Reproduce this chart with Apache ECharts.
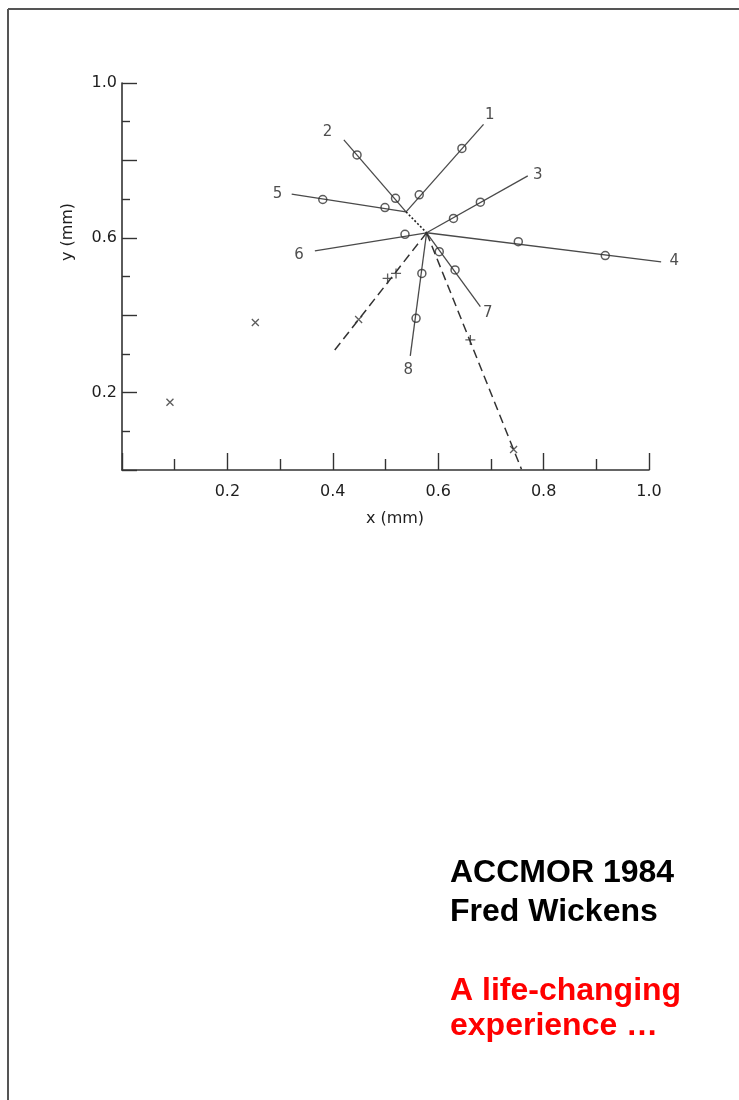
<!DOCTYPE html>
<html>
<head>
<meta charset="utf-8">
<script src="https://cdn.jsdelivr.net/npm/echarts@6/dist/echarts.min.js"></script>
<style>
html,body{margin:0;padding:0;background:#fff;}
#c{width:739px;height:1100px;}
</style>
</head>
<body>
<div id="c"></div>
<script>
// ---- data (mm) ----
const primaryVertex = [0.578, 0.613];
const secondaryVertex = [0.539, 0.667];

const trackNames = ['1', '2', '3', '4', '5', '6', '7', '8'];
const trackOrigin = ['S', 'S', 'P', 'P', 'S', 'P', 'P', 'P'];
const trackEndX = [0.686, 0.421, 0.770, 1.023, 0.322, 0.366, 0.680, 0.547];
const trackEndY = [0.893, 0.853, 0.760, 0.538, 0.713, 0.566, 0.422, 0.295];
const labelX = [0.698, 0.390, 0.789, 1.048, 0.295, 0.336, 0.694, 0.543];
const labelY = [0.917, 0.874, 0.762, 0.541, 0.713, 0.556, 0.405, 0.258];

const hitX = [0.564, 0.645, 0.446, 0.519, 0.629, 0.680, 0.752, 0.917, 0.381, 0.499, 0.537, 0.602, 0.632, 0.569, 0.558];
const hitY = [0.711, 0.831, 0.814, 0.702, 0.650, 0.692, 0.590, 0.554, 0.699, 0.678, 0.609, 0.564, 0.517, 0.508, 0.392];

const dashedEndX = [0.398, 0.758];
const dashedEndY = [0.300, 0.002];

const plusX = [0.504, 0.520, 0.661];
const plusY = [0.495, 0.508, 0.336];
const crossX = [0.449, 0.743, 0.253, 0.091];
const crossY = [0.389, 0.053, 0.381, 0.175];

const xTicks = [0.2, 0.4, 0.6, 0.8, 1.0];
const yTickLabels = [0.2, 0.6, 1.0];

const titleLines = ['ACCMOR 1984', 'Fred Wickens'];
const subtitleLines = ['A life-changing', 'experience \u2026'];

// ---- chart ----
const LINE = '#4a4a4a';
const AX = '#1e1e1e';
const vertexOf = k => (k === 'P' ? primaryVertex : secondaryVertex);

const series = [
  {
    type: 'lines', coordinateSystem: 'cartesian2d', clip: false, silent: true,
    data: trackNames.map((n, i) => ({coords: [vertexOf(trackOrigin[i]), [trackEndX[i], trackEndY[i]]]})),
    lineStyle: {color: LINE, width: 1.3, opacity: 1}
  },
  {
    type: 'lines', coordinateSystem: 'cartesian2d', clip: false, silent: true,
    data: [{coords: [secondaryVertex, primaryVertex]}],
    lineStyle: {color: '#222', width: 1.6, type: [2, 2], opacity: 1}
  },
  {
    type: 'lines', coordinateSystem: 'cartesian2d', clip: false, silent: true,
    data: dashedEndX.map((x, i) => ({coords: [primaryVertex, [x, dashedEndY[i]]]})),
    lineStyle: {color: '#333', width: 1.5, type: [9, 5], opacity: 1}
  },
  {
    type: 'scatter', data: hitX.map((x, i) => [x, hitY[i]]),
    symbol: 'circle', symbolSize: 8, clip: false,
    itemStyle: {color: 'rgba(0,0,0,0)', borderColor: '#333', borderWidth: 1.5}
  },
  {
    type: 'scatter', data: plusX.map((x, i) => [x, plusY[i]]),
    symbol: 'path://M5,0L5,10M0,5L10,5', symbolSize: 10, clip: false,
    itemStyle: {color: 'rgba(0,0,0,0)', borderColor: '#333', borderWidth: 1.3}
  },
  {
    type: 'scatter', data: crossX.map((x, i) => [x, crossY[i]]),
    symbol: 'path://M0,0L10,10M10,0L0,10', symbolSize: 7, clip: false,
    itemStyle: {color: 'rgba(0,0,0,0)', borderColor: '#333', borderWidth: 1.3}
  },
  {
    type: 'scatter', data: labelX.map((x, i) => ({value: [x, labelY[i]], name: trackNames[i]})),
    symbol: 'circle', symbolSize: 12, clip: false,
    itemStyle: {color: 'rgba(0,0,0,0)', borderWidth: 0},
    label: {show: true, position: 'inside', formatter: '{b}', color: '#222',
            fontFamily: 'DejaVu Sans', fontSize: 15}
  }
];

const chart = echarts.init(document.getElementById('c'), null, {renderer: 'canvas'});
chart.setOption({
  animation: false,
  backgroundColor: '#fff',
  grid: {left: 122, top: 83, width: 527, height: 387, outerBoundsMode: 'none'},
  xAxis: {
    type: 'value', min: 0, max: 1.0, interval: 0.2,
    axisLine: {onZero: false, lineStyle: {color: '#333', width: 1.6}},
    axisTick: {inside: true, length: 17, lineStyle: {color: '#333', width: 1.4}},
    minorTick: {show: true, splitNumber: 2, length: 11, lineStyle: {color: '#333', width: 1.4}},
    splitLine: {show: false}, minorSplitLine: {show: false},
    axisLabel: {margin: 14, color: AX, fontFamily: 'DejaVu Sans', fontSize: 16,
      formatter: v => xTicks.some(t => Math.abs(t - v) < 1e-6) ? v.toFixed(1) : ''}
  },
  yAxis: {
    type: 'value', min: 0, max: 1.0, interval: 0.2,
    axisLine: {onZero: false, lineStyle: {color: '#333', width: 1.6}},
    axisTick: {inside: true, length: 15, lineStyle: {color: '#333', width: 1.4}},
    minorTick: {show: true, splitNumber: 2, length: 8, lineStyle: {color: '#333', width: 1.4}},
    splitLine: {show: false}, minorSplitLine: {show: false},
    axisLabel: {margin: 5, color: AX, fontFamily: 'DejaVu Sans', fontSize: 16,
      formatter: v => yTickLabels.some(t => Math.abs(t - v) < 1e-6) ? v.toFixed(1) : ''}
  },
  graphic: [
    {type: 'line', shape: {x1: 8, y1: 9, x2: 739, y2: 9}, style: {stroke: '#555', lineWidth: 2}},
    {type: 'line', shape: {x1: 8, y1: 9, x2: 8, y2: 1100}, style: {stroke: '#555', lineWidth: 2}},
    {type: 'text', x: 395, y: 519, style: {text: 'x (mm)', fill: AX, font: '16px "DejaVu Sans"', textAlign: 'center', textVerticalAlign: 'middle'}},
    {type: 'text', x: 68, y: 232, rotation: Math.PI / 2, style: {text: 'y (mm)', fill: AX, font: '16px "DejaVu Sans"', textAlign: 'center', textVerticalAlign: 'middle'}},
    {type: 'text', left: 450, top: 857, style: {text: titleLines[0], fill: '#000', font: 'bold 32px "Liberation Sans", Arial, sans-serif'}},
    {type: 'text', left: 450, top: 896, style: {text: titleLines[1], fill: '#000', font: 'bold 32px "Liberation Sans", Arial, sans-serif'}},
    {type: 'text', left: 450, top: 975, style: {text: subtitleLines[0], fill: '#ff0000', font: 'bold 32px "Liberation Sans", Arial, sans-serif'}},
    {type: 'text', left: 450, top: 1010, style: {text: subtitleLines[1], fill: '#ff0000', font: 'bold 32px "Liberation Sans", Arial, sans-serif'}}
  ],
  series: series
});
</script>
</body>
</html>
